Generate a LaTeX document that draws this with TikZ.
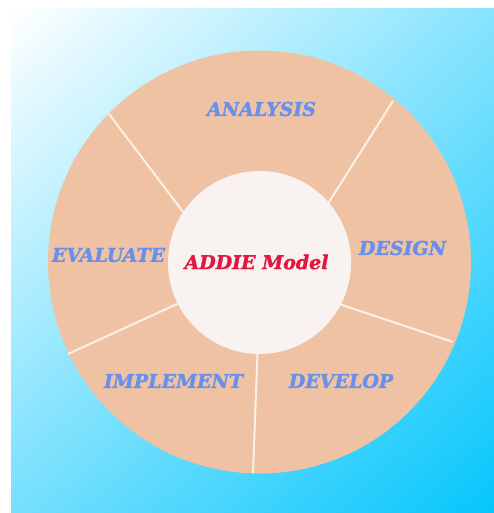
\documentclass[tikz,border=0pt]{standalone}
\usepackage{fontspec}
\setmainfont{DejaVu Serif}[BoldItalicFeatures={FakeBold=1.6}]
\usepackage{xcolor}
\usetikzlibrary{shadings}
\definecolor{peach}{HTML}{F0C2A4}
\definecolor{shell}{HTML}{F8F3F1}
\definecolor{sky}{HTML}{05C6FC}
\definecolor{phasecol}{HTML}{6690EC}
\definecolor{crimson}{HTML}{E2173E}
\definecolor{seam}{HTML}{FBF1E4}
\newcommand{\blue}[1]{\textcolor{phasecol}{#1}}
\newcommand{\crim}[1]{\textcolor{crimson}{#1}}

\begin{document}
\begin{tikzpicture}[x=1pt, y=-1pt,
    font=\bfseries\itshape\fontsize{19}{19}\selectfont]
                \useasboundingbox (0,0) rectangle (494,513);
                \shade[upper left=white, upper right=sky!48, lower left=sky!55, lower right=sky] (11,9) rectangle (494,513);

                \fill[peach] (259.5,262) circle (211.5pt);

                \draw[seam, line width=2pt] (109,114) -- (190,221);
                \draw[seam, line width=2pt] (393,101) -- (322,213);
                \draw[seam, line width=2pt] (453,342) -- (330,301);
                \draw[seam, line width=2pt] (253,473) -- (258,340);
                \draw[seam, line width=2pt] (68,354) -- (188,299);

                \fill[shell] (259.5,262.5) circle (91.5pt);

                \node (An) at (261.5,109) {\blue{ANALYSIS}};
                \node (De) at (402.5,248) {\blue{DESIGN}};
                \node (Dv) at (341,381) {\blue{DEVELOP}};
                \node (Im) at (173.5,381) {\blue{IMPLEMENT}};
                \node (Ev) at (108.5,255) {\blue{EVALUATE}};

                \node (M) at (256.5,262) {\crim{ADDIE Model}};
            \end{tikzpicture}
\end{document}
